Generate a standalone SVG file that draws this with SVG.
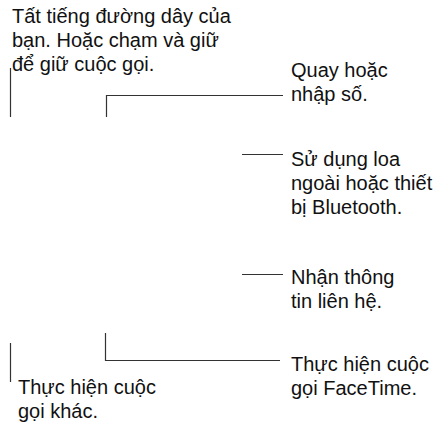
<svg xmlns="http://www.w3.org/2000/svg" width="434" height="424" viewBox="0 0 434 424">
<style>
.t{font-family:"Liberation Sans",Arial,Helvetica,sans-serif;font-size:20px;fill:#111}
.c{stroke:#333;stroke-width:1.2;fill:none}
</style>
<rect width="434" height="424" fill="#fff"/>
<g id="connectors">
<path class="c" d="M10.5 68V117"/>
<path class="c" d="M106.5 117V95.5H283"/>
<path class="c" d="M242 154.5H283"/>
<path class="c" d="M242 274.5H283"/>
<path class="c" d="M10.5 343V382"/>
<path class="c" d="M105.5 333V360.5H280"/>
</g>
<g id="mute">
<text class="t" x="12" y="23">Tất tiếng đường dây của</text>
<text class="t" x="12" y="47">bạn. Hoặc chạm và giữ</text>
<text class="t" x="12" y="71">để giữ cuộc gọi.</text>
</g>
<g id="keypad">
<text class="t" x="291" y="77">Quay hoặc</text>
<text class="t" x="291" y="101">nhập số.</text>
</g>
<g id="speaker">
<text class="t" x="291" y="166">Sử dụng loa</text>
<text class="t" x="291" y="190">ngoài hoặc thiết</text>
<text class="t" x="291" y="214">bị Bluetooth.</text>
</g>
<g id="contacts">
<text class="t" x="291" y="284">Nhận thông</text>
<text class="t" x="291" y="308">tin liên hệ.</text>
</g>
<g id="addcall">
<text class="t" x="18" y="394">Thực hiện cuộc</text>
<text class="t" x="18" y="418">gọi khác.</text>
</g>
<g id="facetime">
<text class="t" x="291" y="371">Thực hiện cuộc</text>
<text class="t" x="291" y="395">gọi FaceTime.</text>
</g>
</svg>
